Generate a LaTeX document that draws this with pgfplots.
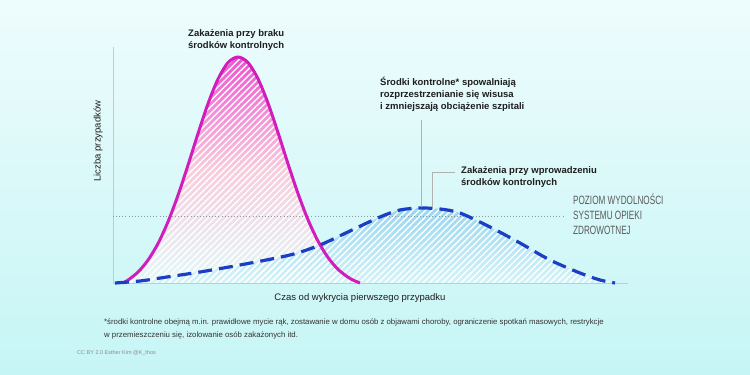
\documentclass[border=0pt]{standalone}
\usepackage{pgfplots}
\pgfplotsset{compat=1.18}
\usepackage{fontspec}
\setmainfont{Liberation Sans}
\newfontfamily\condfont[FakeStretch=0.68]{Liberation Sans}
\usetikzlibrary{patterns.meta}
\definecolor{bgtop}{HTML}{EEFCFD}
\definecolor{bgbot}{HTML}{C6F5F5}
\definecolor{mag}{HTML}{D21CBC}
\definecolor{magtop}{HTML}{EE52D2}
\definecolor{magmid}{HTML}{F8CCDC}
\definecolor{dblue}{HTML}{1B3FC4}
\definecolor{bluetop}{HTML}{98D6F0}
\definecolor{bluebot}{HTML}{D4F4F8}
\definecolor{axgray}{HTML}{C2CBCF}
\definecolor{dotgray}{HTML}{8E9A9E}
\definecolor{txt}{HTML}{1E1E1E}

\pgfplotstableread{
x y
10 0
15 2.9
25 10.9
35 22.9
45 39.4
55 61.2
65 87.7
75 117.8
85 149.4
95 179.3
105 203.9
115 220.4
125 226
135 220.4
145 204.2
155 179.9
165 150.4
175 119.2
185 89.5
195 63.3
205 41.9
215 25.5
225 13.7
235 5.8
241 2.5
247 0
}\nomeasures

\pgfplotstableread{
x y
2 0
27 2
54 6
87 11
127 18
177 28
207 38
237 52
267 66
287 73
307 75
327 74
347 70
377 56
407 40
437 23
467 10
487 3
502 0
}\withmeasures

\pgfplotstableread{
x y
0 67
450 67
}\capacity

\begin{document}
\begin{tikzpicture}
\shade[top color=bgtop, bottom color=bgbot] (0pt,0pt) rectangle (750pt,375pt);
\begin{axis}[at={(113pt,92pt)}, anchor=south west, scale only axis,
  width=515pt, height=236pt, xmin=0, xmax=515, ymin=0, ymax=236,
  axis lines=left, axis line style={draw=axgray, line width=0.9pt, -},
  ticks=none, clip=false]
% fills
\addplot[draw=none, top color=magtop, bottom color=bgbot!50!white, middle color=magmid, smooth, tension=0.5] table {\nomeasures} \closedcycle;
\addplot[draw=none, top color=bluetop, bottom color=bluebot, smooth, tension=0.5] table {\withmeasures} \closedcycle;
\addplot[draw=none, pattern={Lines[angle=45,distance=4.5pt,line width=1.4pt]}, pattern color=white, fill opacity=0.25, smooth, tension=0.5] table {\nomeasures} \closedcycle;
\addplot[draw=none, pattern={Lines[angle=45,distance=4.5pt,line width=1.4pt]}, pattern color=white, fill opacity=0.25, smooth, tension=0.5] table {\withmeasures} \closedcycle;
% capacity
\addplot[dotgray, line width=0.9pt, dash pattern=on 0.9pt off 2.2pt] table {\capacity};
% curves
\addplot[mag, line width=3pt, smooth, tension=0.5] table {\nomeasures};
\addplot[dblue, line width=3.2pt, dash pattern=on 14pt off 7pt, smooth, tension=0.5] table {\withmeasures};
% leader lines
\draw[gray!60, line width=0.6pt] (308,163) -- (308,76);
\draw[gray!60, line width=0.6pt] (342,111) -- (319,111) -- (319,76);
% labels
\node[anchor=north west, inner sep=0pt, align=left, font=\fontsize{9.5}{12}\selectfont\bfseries, text=txt] at (75,254) {Zakażenia przy braku\\środków kontrolnych};
\node[anchor=north west, inner sep=0pt, align=left, font=\fontsize{9.5}{11.7}\selectfont\bfseries, text=txt] at (267,206) {Środki kontrolne* spowalniają\\rozprzestrzenianie się wisusa\\i zmniejszają obciążenie szpitali};
\node[anchor=north west, inner sep=0pt, align=left, font=\fontsize{9.5}{12}\selectfont\bfseries, text=txt] at (348,117) {Zakażenia przy wprowadzeniu\\środków kontrolnych};
\node[anchor=north west, inner sep=0pt, align=left, font=\condfont\fontsize{12}{15}\selectfont, text=black!65] at (460,89) {POZIOM WYDOLNOŚCI\\SYSTEMU OPIEKI\\ZDROWOTNEJ};
\node[font=\fontsize{9.5}{11}\selectfont, text=txt] at (247,-15) {Czas od wykrycia pierwszego przypadku};
\node[rotate=90, font=\fontsize{9.5}{11}\selectfont, text=txt] at (-15,142) {Liczba przypadków};
\end{axis}
\node[anchor=north west, inner sep=0pt, align=left, font=\fontsize{7.8}{12.5}\selectfont, text=black!80] at (104pt,56pt) {*środki kontrolne obejmą m.in. prawidłowe mycie rąk, zostawanie w domu osób z objawami choroby, ograniczenie spotkań masowych, restrykcje\\w przemieszczeniu się, izolowanie osób zakażonych itd.};
\node[anchor=west, inner sep=0pt, font=\fontsize{5.5}{7}\selectfont, text=black!45] at (77pt,22pt) {CC BY 2.0 Esther Kim @K\_thos};
\end{tikzpicture}
\end{document}
